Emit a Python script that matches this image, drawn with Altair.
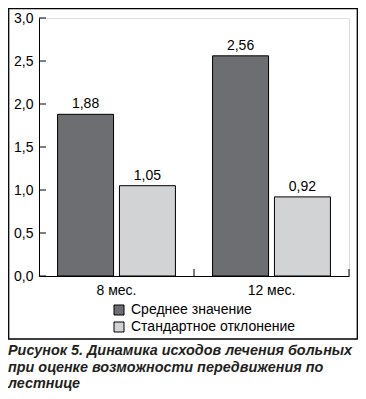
import altair as alt
import pandas as pd

groups = ["8 мес.", "12 мес."]
series = ["Среднее значение", "Стандартное отклонение"]
mean_vals = [1.88, 2.56]
sd_vals = [1.05, 0.92]
y_ticks = [0.0, 0.5, 1.0, 1.5, 2.0, 2.5, 3.0]
colors = ["#6d6e71", "#d1d3d4"]
caption = ("Рисунок 5. Динамика исходов лечения больных\n"
           "при оценке возможности передвижения по\n"
           "лестнице")

rows = []
for g, m, s in zip(groups, mean_vals, sd_vals):
    rows.append({"group": g, "series": series[0], "value": m})
    rows.append({"group": g, "series": series[1], "value": s})
df = pd.DataFrame(rows)

L, T = 31, 10
W, H = 310, 258
FONT = "Liberation Sans"
FS = 14

x_enc = alt.X("group:N", sort=groups, title=None,
              scale=alt.Scale(paddingInner=0, paddingOuter=0),
              axis=alt.Axis(ticks=False, domainColor="black", labelColor="black",
                            labelFontSize=FS, labelFont=FONT, labelPadding=7,
                            labelAngle=0))
y_enc = alt.Y("value:Q", title=None,
              scale=alt.Scale(domain=[0, 3], nice=False),
              axis=alt.Axis(values=y_ticks, ticks=False, grid=False,
                            domainColor="black", labelColor="black",
                            labelFontSize=FS, labelFont=FONT, labelPadding=6,
                            labelExpr="replace(format(datum.value, '.1f'), '.', ',')"))

bars = alt.Chart(df).mark_bar(stroke="black", strokeWidth=1).encode(
    x=x_enc,
    xOffset=alt.XOffset("series:N", sort=series,
                        scale=alt.Scale(paddingInner=0.095, paddingOuter=0.3)),
    y=y_enc,
    color=alt.Color("series:N", sort=series,
                    scale=alt.Scale(domain=series, range=colors),
                    legend=alt.Legend(title=None, orient="none", legendX=73, legendY=285,
                                      symbolType="square", symbolSize=100,
                                      symbolStrokeColor="black", symbolStrokeWidth=1,
                                      labelFontSize=FS, labelFont=FONT, labelColor="black",
                                      labelOffset=5, labelLimit=400, rowPadding=3, padding=0)),
)

labels = alt.Chart(df).transform_calculate(
    lab="replace(format(datum.value, '.2f'), '.', ',')"
).mark_text(baseline="bottom", dy=-3, fontSize=FS, font=FONT, color="black").encode(
    x=alt.X("group:N", sort=groups),
    xOffset=alt.XOffset("series:N", sort=series),
    y="value:Q",
    text="lab:N",
)

ytick_df = pd.DataFrame({"value": y_ticks})
yticks = alt.Chart(ytick_df).mark_rule(color="black", strokeWidth=1).encode(
    y="value:Q", x=alt.value(0), x2=alt.value(7))

xtick_df = pd.DataFrame({"group": groups})
xticks = alt.Chart(xtick_df).mark_rule(color="black", strokeWidth=1).encode(
    x=alt.X("group:N", sort=groups, bandPosition=1),
    y=alt.value(H), y2=alt.value(H - 7))

one = pd.DataFrame({"k": [0]})
frame = alt.Chart(one).mark_rect(fillOpacity=0, stroke="black", strokeWidth=1.3).encode(
    x=alt.value(-L + 0.7), x2=alt.value(349.3 - L), y=alt.value(-T + 0.7), y2=alt.value(331 - T))

cap = alt.Chart(one).mark_text(
    align="left", baseline="alphabetic", lineBreak="\n", lineHeight=16.5,
    fontSize=14.4, font=FONT, fontWeight="bold", fontStyle="italic", color="#231f20"
).encode(x=alt.value(-L), y=alt.value(347 - T), text=alt.value(caption))

chart = alt.layer(frame, bars, labels, yticks, xticks, cap).properties(
    width=W, height=H, autosize="none",
    padding={"left": L, "top": T, "right": 350 - L - W, "bottom": 383 - T - H},
).configure_view(stroke=None).configure(background="white")

chart.save("out.html", embed_options={"renderer": "svg", "actions": False})
